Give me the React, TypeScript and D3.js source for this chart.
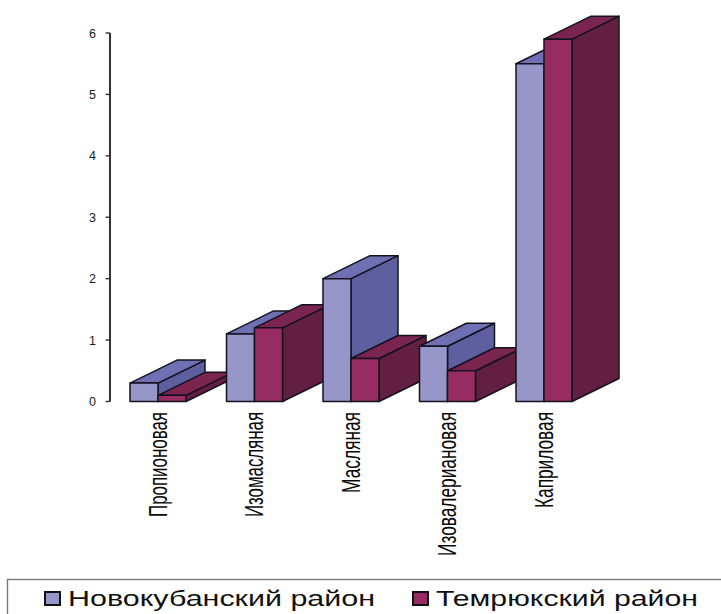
import React from "react";
import * as d3 from "d3";

const categories = ["Пропионовая", "Изомасляная", "Масляная", "Изовалериановая", "Каприловая"];
const novokubansky = [0.3, 1.1, 2, 0.9, 5.5];
const temryuk = [0.1, 1.2, 0.7, 0.5, 5.9];
const yTicks = [0, 1, 2, 3, 4, 5, 6];
const seriesNames = ["Новокубанский район", "Темрюкский район"];

const WIDTH = 721;
const HEIGHT = 614;
const DEPTH_X = 47;
const DEPTH_Y = 23;
const BAR_W = 28;
const FONT = "'Liberation Sans', Arial, sans-serif";

const palettes = [
  { front: "#9696c9", top: "#6f70b4", side: "#5e5f9f" },
  { front: "#962c62", top: "#7a2450", side: "#631f3f" },
];

const labelLengths = [105, 105, 81, 144, 96];
const legendText = [
  { swatch: 45, x: 68, len: 307 },
  { swatch: 413, x: 436, len: 262 },
];

export default function App() {
  const y = d3.scaleLinear().domain([0, 6]).range([401.5, 33]);
  const x0 = d3
    .scaleBand<string>()
    .domain(categories)
    .range([130 - 34.25, 130 - 34.25 + 96.5 * 5])
    .paddingInner(0);
  const groupX = (c: string) => (x0(c) as number) + 34.25;
  const series = [novokubansky, temryuk];

  const pts = (a: [number, number][]) => a.map((p) => p.join(",")).join(" ");

  return (
    <svg
      width={WIDTH}
      height={HEIGHT}
      style={{ position: "absolute", left: 0, top: 0, background: "#fff" }}
    >
      {/* value axis */}
      <line x1={110} x2={110} y1={y(6)} y2={y(0)} stroke="#333" strokeWidth={2} />
      {yTicks.map((t) => (
        <g key={t}>
          <line x1={105.5} x2={110} y1={y(t)} y2={y(t)} stroke="#333" strokeWidth={1.4} />
          <text x={96} y={y(t) + 4.5} textAnchor="end" fontFamily={FONT} fontSize={12.5} fill="#1a1a1a">
            {t}
          </text>
        </g>
      ))}

      {/* extruded bars, painted left to right so nearer groups overlap */}
      {categories.map((c, i) => (
        <g key={c}>
          {series.map((vals, s) => {
            const l = groupX(c) + s * BAR_W;
            const r = l + BAR_W;
            const t = y(vals[i]);
            const b = y(0);
            const p = palettes[s];
            const edge = { stroke: "#15121f", strokeWidth: 1.5, strokeLinejoin: "round" as const };
            return (
              <g key={s}>
                <polygon
                  points={pts([[r, b], [r + DEPTH_X, b - DEPTH_Y], [r + DEPTH_X, t - DEPTH_Y], [r, t]])}
                  fill={p.side}
                  {...edge}
                />
                <polygon
                  points={pts([[l, t], [l + DEPTH_X, t - DEPTH_Y], [r + DEPTH_X, t - DEPTH_Y], [r, t]])}
                  fill={p.top}
                  {...edge}
                />
                <rect x={l} y={t} width={BAR_W} height={b - t} fill={p.front} {...edge} />
              </g>
            );
          })}
        </g>
      ))}

      {/* condensed vertical category labels */}
      {categories.map((c, i) => (
        <text
          key={c}
          transform={`translate(${groupX(c) + 36.5},${412 + labelLengths[i]}) rotate(-90)`}
          fontFamily={FONT}
          fontSize={25}
          fill="#0a0a0a"
          textLength={labelLengths[i]}
          lengthAdjust="spacingAndGlyphs"
        >
          {c}
        </text>
      ))}

      {/* legend */}
      <rect x={7.5} y={579.5} width={WIDTH} height={HEIGHT} fill="#fff" stroke="#777" strokeWidth={1.4} />
      {seriesNames.map((n, i) => (
        <g key={n}>
          <rect
            x={legendText[i].swatch}
            y={592}
            width={15}
            height={13}
            fill={palettes[i].front}
            stroke="#111"
            strokeWidth={2}
          />
          <text
            x={legendText[i].x}
            y={605.5}
            fontFamily={FONT}
            fontSize={22}
            fill="#111"
            textLength={legendText[i].len}
            lengthAdjust="spacingAndGlyphs"
          >
            {n}
          </text>
        </g>
      ))}
    </svg>
  );
}
